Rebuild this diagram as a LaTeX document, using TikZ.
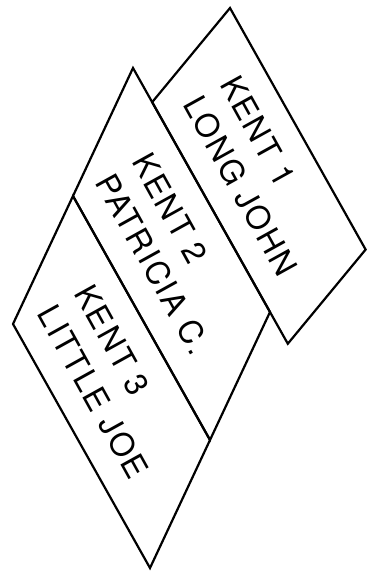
\documentclass[tikz,border=0pt]{standalone}
\usepackage{fontspec}
\setmainfont{TeX Gyre Heros}
\newfontfamily\cardfont[LetterSpace=6]{TeX Gyre Heros}
\usetikzlibrary{calc}

\begin{document}
\begin{tikzpicture}[x=0.5pt,y=-0.5pt,
                card/.style={draw,line width=1.1pt,line join=miter},
                cardtext/.style={rotate=-61,align=left,inner sep=0pt,font=\cardfont\fontsize{16}{21}\selectfont}]
                \useasboundingbox (0,0) rectangle (366,574);
                % corners of the cards
                \coordinate (t2) at (133,68);
                \coordinate (l2) at (73,196);
                \coordinate (r2) at (270,312);
                \coordinate (b2) at (210,440);
                \coordinate (l3) at (13,324);
                \coordinate (b3) at (150,568);
                \coordinate (t1) at (230,8);
                \coordinate (l1) at ($(t2)!0.14!(r2)$);
                \coordinate (b1) at ($(t2)!1.13!(r2)$);
                \coordinate (r1) at ($(b1)+(t1)-(l1)$);
                % cards
                \draw[card] (t1) -- (r1) -- (b1) -- (l1) -- cycle;
                \draw[card] (t2) -- (r2) -- (b2) -- (l2) -- cycle;
                \draw[card] (l2) -- (b2) -- (b3) -- (l3) -- cycle;
                % names
                \node[cardtext] (kent1) at ($(t1)!0.5!(b1)$) {KENT 1\\LONG JOHN};
                \node[cardtext] (kent2) at ($(t2)!0.5!(b2)$) {KENT 2\\PATRICIA C.};
                \node[cardtext] (kent3) at ($(l2)!0.5!(b3)$) {KENT 3\\LITTLE JOE};
            \end{tikzpicture}
\end{document}
